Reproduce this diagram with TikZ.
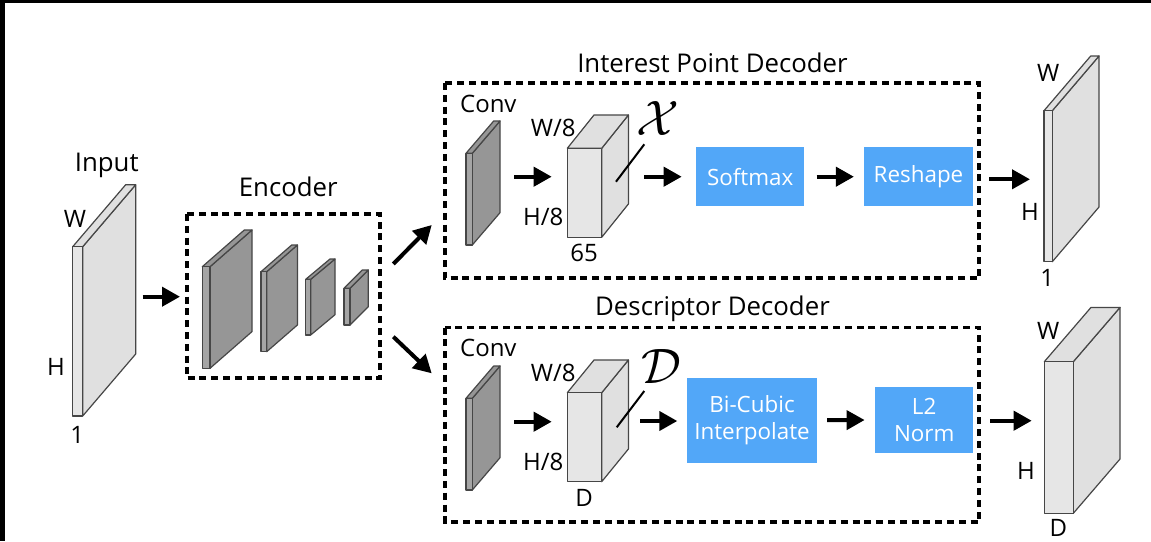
\documentclass[tikz,border=0pt]{standalone}
\usepackage{fontspec}
\setmainfont{Open Sans}
\usetikzlibrary{arrows.meta}
\definecolor{boxblue}{RGB}{82,167,248}
\definecolor{darkslab}{RGB}{150,150,150}
\definecolor{darkfront}{RGB}{165,165,165}
\definecolor{lightslab}{RGB}{224,224,224}
\definecolor{lightfront}{RGB}{230,230,230}
\definecolor{slabedge}{RGB}{70,70,70}
\tikzset{
  slabline/.style={draw=slabedge, line width=0.6pt, line join=round},
  dashbox/.style={draw=black, line width=1.9pt, dash pattern=on 3.5pt off 2.4pt},
  flow/.style={line width=2pt, -{Triangle[length=9pt,width=9.5pt]}},
  bluebox/.style={fill=boxblue, text=white, font=\fontsize{11.2}{13.5}\selectfont, align=center, inner sep=0pt},
  titletext/.style={font=\fontsize{12.9}{15}\selectfont, inner sep=0pt},
  dimlabel/.style={font=\fontsize{12}{13}\selectfont, inner sep=0pt},
  mathsym/.style={font=\fontsize{24}{24}\selectfont, inner sep=0pt},
  textstroke/.style={},
}
% name, x, y, w, h, dx, dy, face colour, front colour
\newcommand\slabshape[9]{%
  \filldraw[slabline, fill=#8] ({#2+#4},#3) -- ++(#6,#7) -- ++(0,#5) -- ++({-(#6)},{-(#7)}) -- cycle;
  \filldraw[slabline, fill=#8] (#2,#3) -- ++(#6,#7) -- ++(#4,0) -- ++({-(#6)},{-(#7)}) -- cycle;
  \filldraw[slabline, fill=#9] (#2,#3) rectangle ++(#4,#5);
  \coordinate (#1) at ({#2+#4/2},{#3+#5/2});
}
\begin{document}
\begin{tikzpicture}[x=0.5pt,y=-0.5pt]
\useasboundingbox (0,0) rectangle (1151,541);
\fill[white] (0,0) rectangle (1151,541);
\fill[black] (0,0) rectangle (1151,3);
\fill[black] (0,0) rectangle (5,541);

% ---------- Input ----------
\slabshape{input}{72.7}{246.7}{10}{169.3}{53}{-62}{lightslab}{lightfront}
\node[titletext] (tinput) at (106.7,165) {Input};
\node[dimlabel] (inW) at (75,219.3) {W};
\node[dimlabel] (inH) at (56,366.7) {H};
\node[dimlabel] (in1) at (77.3,435) {1};

% ---------- Encoder ----------
\node[titletext] (tenc) at (288.3,186.7) {Encoder};
\draw[dashbox] (186.7,214) rectangle (380,378.3);
\coordinate (encbox) at (283.3,296.2);
\slabshape{e1}{202.3}{266.7}{7.7}{101.6}{42}{-36.7}{darkslab}{darkfront}
\slabshape{e2}{261}{271.7}{5.7}{80}{30.7}{-26.7}{darkslab}{darkfront}
\slabshape{e3}{305.7}{279.3}{5}{55.7}{24.3}{-20.3}{darkslab}{darkfront}
\slabshape{e4}{344}{288.3}{6}{36.7}{18.3}{-18.3}{darkslab}{darkfront}

% ---------- Interest point decoder ----------
\node[titletext] (tipd) at (712.5,63.3) {Interest Point Decoder};
\draw[dashbox] (445,83) rectangle (979.3,278);
\node[dimlabel] (conv1) at (488.3,104) {Conv};
\slabshape{c1}{466}{153.3}{6.3}{91.7}{27.7}{-32.3}{darkslab}{darkfront}
\slabshape{x1}{567.3}{148.3}{34.4}{89}{26.7}{-33.3}{lightslab}{lightfront}
\node[dimlabel] (x1W) at (553.3,128.3) {W/8};
\node[dimlabel] (x1H) at (543.3,216.7) {H/8};
\node[dimlabel] (x1D) at (584,253.3) {65};
\node[mathsym] (chi) at (658.3,118.3) {$\mathcal{X}$};
\coordinate (chiA) at (616,181.7);
\coordinate (chiB) at (644.3,144.3);
\draw[line width=1pt] (chiA) -- (chiB);
\node[bluebox, minimum width=54.2pt, minimum height=29.4pt] (soft) at (750.2,176.7) {Softmax};
\node[bluebox, minimum width=54.2pt, minimum height=29.4pt] (resh) at (918.5,176.7) {Reshape};

% ---------- Descriptor decoder ----------
\node[titletext] (tdd) at (712.5,308.3) {Descriptor Decoder};
\draw[dashbox] (445,327.5) rectangle (979.3,521.7);
\node[dimlabel] (conv2) at (488.3,348.3) {Conv};
\slabshape{c2}{466}{398.3}{6.3}{91.7}{27.7}{-32.3}{darkslab}{darkfront}
\slabshape{x2}{567.3}{392.7}{34.4}{89}{26.7}{-32.7}{lightslab}{lightfront}
\node[dimlabel] (x2W) at (553.3,372.7) {W/8};
\node[dimlabel] (x2H) at (543.3,461.7) {H/8};
\node[dimlabel] (x2D) at (584,498.3) {D};
\node[mathsym] (dsym) at (661.7,366.7) {$\mathcal{D}$};
\coordinate (dA) at (616.7,427.3);
\coordinate (dB) at (644.3,391);
\draw[line width=1pt] (dA) -- (dB);
\node[bluebox, minimum width=64.7pt, minimum height=42.5pt] (bicub) at (752,420.2) {Bi-Cubic\\Interpolate};
\node[bluebox, minimum width=49.2pt, minimum height=33.3pt] (l2) at (924.2,420) {L2\\Norm};

% ---------- Outputs ----------
\slabshape{out1}{1044}{110.7}{8.3}{151}{46.7}{-54.7}{lightslab}{lightfront}
\node[dimlabel] (o1W) at (1048.3,73.3) {W};
\node[dimlabel] (o1H) at (1030,211.7) {H};
\node[dimlabel] (o11) at (1047.3,278.3) {1};
\slabshape{out2}{1044.3}{361.7}{29}{151.6}{46.7}{-54.3}{lightslab}{lightfront}
\node[dimlabel] (o2W) at (1048.3,331) {W};
\node[dimlabel] (o2H) at (1026,471) {H};
\node[dimlabel] (o2D) at (1058.3,528.3) {D};

% ---------- Arrows ----------
\coordinate (a1s) at (142.7,296.7);  \coordinate (a1e) at (180,296.7);
\coordinate (a2s) at (393.3,264);    \coordinate (a2e) at (431.7,225);
\coordinate (a3s) at (393.3,336.7);  \coordinate (a3e) at (431.7,373.3);
\coordinate (a4s) at (514,176.7);    \coordinate (a4e) at (551.7,176.7);
\coordinate (a5s) at (644,176.7);    \coordinate (a5e) at (681.7,176.7);
\coordinate (a6s) at (989.3,179.3);  \coordinate (a6e) at (1030,179.3);
\coordinate (a7s) at (514,421.7);    \coordinate (a7e) at (551.7,421.7);
\coordinate (a8s) at (640,421);      \coordinate (a8e) at (677.3,421);
\coordinate (a9s) at (990,420.7);    \coordinate (a9e) at (1031.7,420.7);
\draw[flow] (a1s) -- (a1e);
\draw[flow] (a2s) -- (a2e);
\draw[flow] (a3s) -- (a3e);
\draw[flow] (a4s) -- (a4e);
\draw[flow] (a5s) -- (a5e);
\draw[flow] ([xshift=5.9pt]soft.east) -- ([xshift=-5pt]resh.west);
\draw[flow] (a6s) -- (a6e);
\draw[flow] (a7s) -- (a7e);
\draw[flow] (a8s) -- (a8e);
\draw[flow] ([xshift=5pt]bicub.east) -- ([xshift=-5pt]l2.west);
\draw[flow] (a9s) -- (a9e);
\end{tikzpicture}
\end{document}
